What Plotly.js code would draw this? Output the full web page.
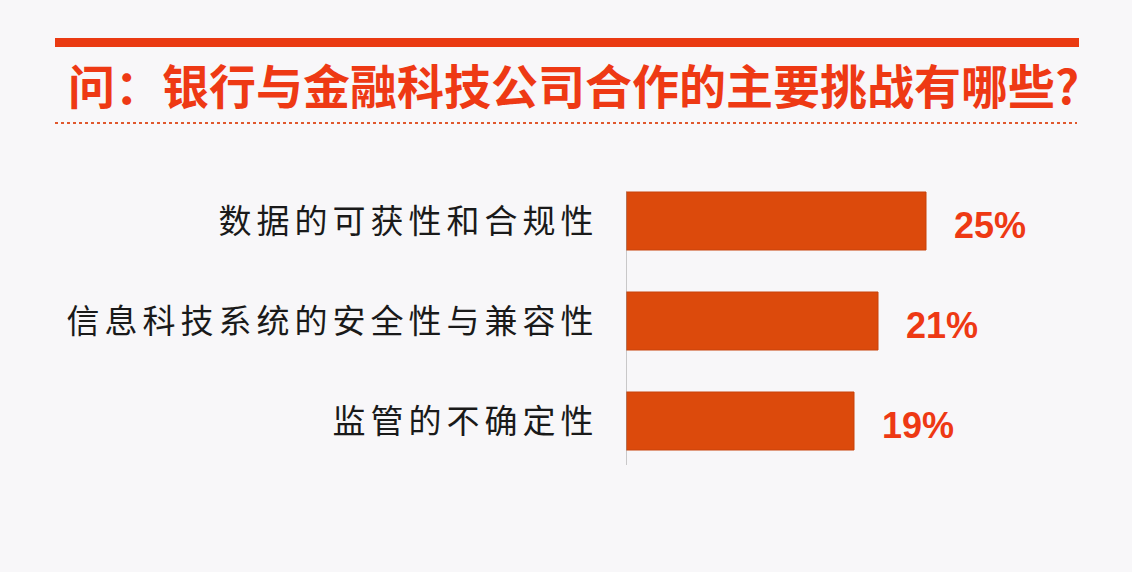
<!DOCTYPE html>
<html>
<head>
<meta charset="utf-8">
<script src="https://cdn.plot.ly/plotly-3.0.1.min.js"></script>
<style>
  html, body { margin: 0; padding: 0; background: #f8f7f9; }
  #chart { width: 1132px; height: 572px; }
  #chart .ytick text { letter-spacing: 5px; }
</style>
</head>
<body>
<div id="chart"></div>
<script>
// survey answers, top to bottom
const categories = ["数据的可获性和合规性", "信息科技系统的安全性与兼容性", "监管的不确定性"];
const shares = [25, 21, 19];
const titleText = "问：银行与金融科技公司合作的主要挑战有哪些?";

const W = 1132, H = 572;
const M = { l: 626, r: 100, t: 171, b: 101 };
const plotW = W - M.l - M.r;
const plotH = H - M.t - M.b;

// pixel -> paper helpers for the decorations outside the plot area
const px = v => (v - M.l) / plotW;
const py = v => (H - M.b - v) / plotH;

const barColor = "#dc4a0c";
const red = "#ee3914";

const traces = [
  {
    type: "bar",
    orientation: "h",
    x: shares,
    y: categories,
    marker: { color: barColor, line: { color: "#c8420a", width: 1 } },
    hoverinfo: "none",
    showlegend: false
  }
];

const annotations = shares.map((v, i) => ({
  x: v,
  y: categories[i],
  xref: "x",
  yref: "y",
  text: "<b>" + v + "%</b>",
  showarrow: false,
  xanchor: "left",
  xshift: 26,
  yshift: -4,
  font: { family: "Liberation Sans, Arial, sans-serif", size: 36, color: red }
}));

const layout = {
  width: W,
  height: H,
  margin: { l: M.l, r: M.r, t: M.t, b: M.b, pad: 0 },
  paper_bgcolor: "#f8f7f9",
  plot_bgcolor: "#f8f7f9",
  bargap: 0.42,
  title: {
    text: "<b>" + titleText + "</b>",
    xref: "container",
    yref: "container",
    x: 68 / W,
    xanchor: "left",
    y: 1 - 88 / H,
    yanchor: "middle",
    font: { family: "Noto Sans CJK SC", size: 47, color: red, weight: 900 }
  },
  xaxis: {
    range: [0, plotW / 12],
    showgrid: false,
    zeroline: false,
    showline: false,
    showticklabels: false,
    ticks: "",
    fixedrange: true
  },
  yaxis: {
    type: "category",
    range: [2.5, -0.5],
    showgrid: false,
    zeroline: false,
    showline: false,
    ticks: "outside",
    ticklen: 20,
    tickcolor: "rgba(0,0,0,0)",
    automargin: false,
    tickfont: { family: "Noto Sans CJK SC", size: 33, color: "#1a1a1a" },
    fixedrange: true
  },
  shapes: [
    // thick red rule above the title
    {
      type: "rect", xref: "paper", yref: "paper",
      x0: px(55), x1: px(1079), y0: py(47), y1: py(38),
      fillcolor: "#ea3a12", line: { width: 0 }
    },
    // dotted rule under the title
    {
      type: "line", xref: "paper", yref: "paper",
      x0: px(55), x1: px(1077), y0: py(123), y1: py(123),
      line: { color: "#e0582e", width: 2, dash: "dot" }
    },
    // thin vertical axis
    {
      type: "line", xref: "x", yref: "paper",
      x0: 0, x1: 0, y0: py(465), y1: py(192),
      line: { color: "#999", width: 1 }
    }
  ],
  annotations: annotations
};

Plotly.newPlot("chart", traces, layout, { displayModeBar: false, staticPlot: true });
</script>
</body>
</html>
